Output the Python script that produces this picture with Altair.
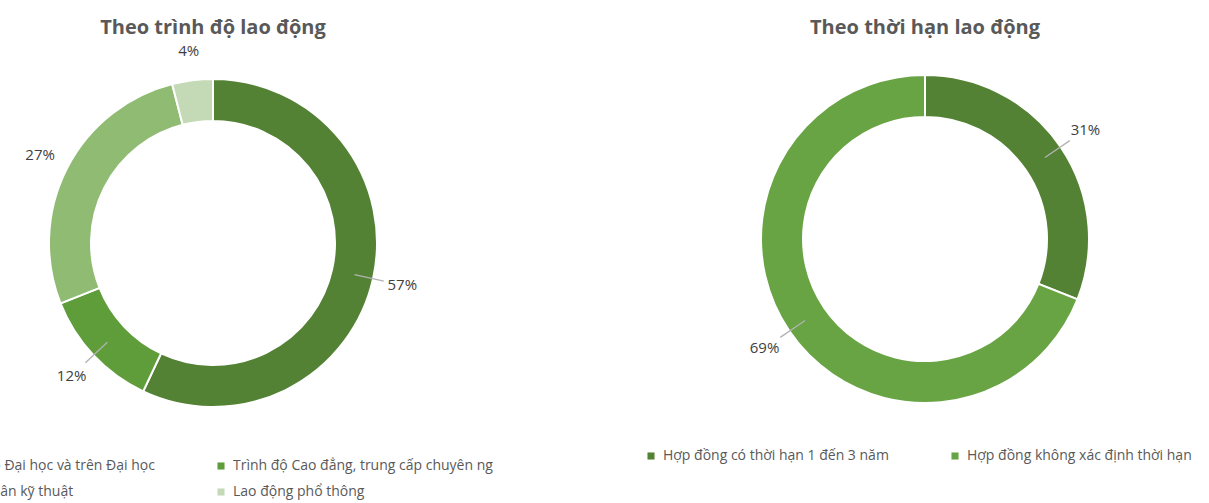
import altair as alt
import pandas as pd

# ---- data ----
level_title = "Theo trình độ lao động"
levels = [
    "Trình độ Đại học và trên Đại học",
    "Trình độ Cao đẳng, trung cấp chuyên ng",
    "Công nhân kỹ thuật",
    "Lao động phổ thông",
]
level_pct = [57, 12, 27, 4]

term_title = "Theo thời hạn lao động"
terms = ["Hợp đồng có thời hạn 1 đến 3 năm", "Hợp đồng không xác định thời hạn"]
term_pct = [31, 69]

# ---- style ----
level_colors = ["#548235", "#5f9d3b", "#8fbb72", "#c4d9b6"]
term_colors = ["#548235", "#68a443"]
level_leader = [True, True, False, False]
term_leader = [True, True]

FONT = "Open Sans"
OUTER, INNER = 164, 122


def make_df(cats, vals, leader):
    return pd.DataFrame({
        "idx": list(range(len(cats))),
        "cat": cats,
        "value": vals,
        "label": [f"{v}%" for v in vals],
        "leader": leader,
    })


def donut(df, cats, colors, title, cx, cy, lx, ly, col_pad):
    base = alt.Chart(df)
    theta = alt.Theta("value:Q", stack=True)
    order = alt.Order("idx:Q")
    arc = base.mark_arc(outerRadius=OUTER, innerRadius=INNER, stroke="white", strokeWidth=2).encode(
        theta=theta,
        order=order,
        color=alt.Color(
            "cat:N",
            scale=alt.Scale(domain=cats, range=colors),
            sort=cats,
            legend=alt.Legend(
                title=None, orient="none", legendX=lx, legendY=ly, columns=2,
                direction="horizontal", symbolType="square", symbolSize=50,
                symbolStrokeWidth=0, labelFont=FONT, labelFontSize=14,
                labelColor="#595959", labelLimit=500, columnPadding=col_pad,
                rowPadding=12, labelOffset=5,
            ),
        ),
        x=alt.value(cx), y=alt.value(cy),
    )
    labels = base.mark_text(radius=194, font=FONT, fontSize=15, color="#404040").encode(
        theta=theta, order=order, detail="cat:N", text="label:N",
        x=alt.value(cx), y=alt.value(cy),
    )
    lead = (
        base.transform_window(cum="sum(value)", sort=[alt.SortField("idx")])
        .transform_joinaggregate(total="sum(value)")
        .transform_calculate(
            a0="2*PI*(datum.cum - datum.value/2)/datum.total - 0.004",
            a1="2*PI*(datum.cum - datum.value/2)/datum.total + 0.004",
        )
        .transform_filter("datum.leader")
        .mark_arc(innerRadius=145, outerRadius=175, color="#b3b3b3")
        .encode(
            theta=alt.Theta("a0:Q", scale=None, stack=None),
            theta2="a1:Q",
            x=alt.value(cx), y=alt.value(cy),
        )
    )
    ttl = alt.Chart(pd.DataFrame({"t": [title]})).mark_text(
        font=FONT, fontSize=20, fontWeight="bold", color="#595959"
    ).encode(text="t:N", x=alt.value(cx), y=alt.value(28))
    return [arc, lead, labels, ttl]


left = donut(make_df(levels, level_pct, level_leader), levels, level_colors,
             level_title, 213, 243, -73, 459, 59)
right = donut(make_df(terms, term_pct, term_leader), terms, term_colors,
              term_title, 925, 239, 644, 449, 59)

chart = (
    alt.layer(*left, *right)
    .resolve_scale(color="independent", theta="independent")
    .properties(width=1209, height=503, padding=0,
                autosize=alt.AutoSizeParams(type="none"))
    .configure_view(stroke=None)
)

chart.save("out.html", embed_options={"renderer": "svg", "actions": False})
